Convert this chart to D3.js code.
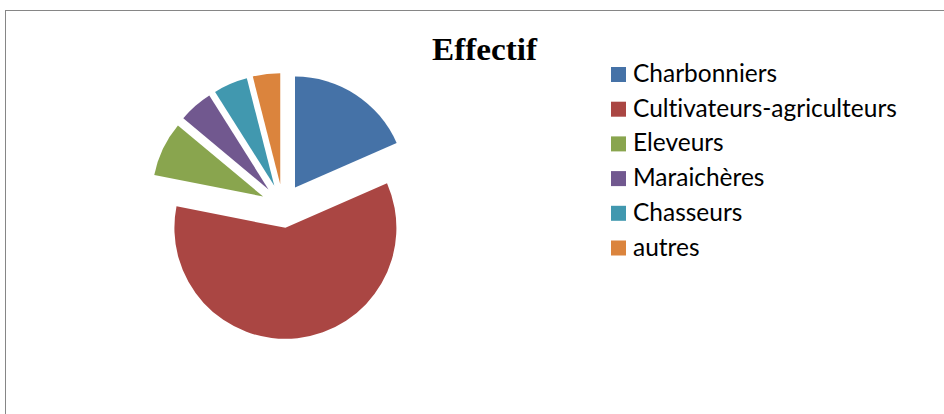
<!DOCTYPE html>
<html>
<head>
<meta charset="utf-8">
<script src="https://cdn.jsdelivr.net/npm/d3@7"></script>
<style>
  html, body { margin: 0; padding: 0; background: #fff; overflow: hidden; }
  svg { display: block; }
  text { font-variant-ligatures: none; }
</style>
</head>
<body>
<div id="chart"></div>
<script>
// data
const categories = ['Charbonniers', 'Cultivateurs-agriculteurs', 'Eleveurs', 'Maraichères', 'Chasseurs', 'autres'];
const effectif = [37, 120, 16, 10, 10, 8];
const colors = ['#4572A7', '#AA4643', '#89A54E', '#71588F', '#4198AF', '#DB843D'];
const title = 'Effectif';

const width = 944, height = 414;
const radius = 111; // pie radius
const explode = 22; // every slice is pulled out from the centre
const legendRectSize = 15;
const legendSpacing = 34.7; // row to row

const svg = d3.select('#chart')
  .append('svg')
  .attr('width', width)
  .attr('height', height);

// chart frame (right and bottom edges fall outside the window)
svg.append('rect')
  .attr('x', 5.5)
  .attr('y', 10.5)
  .attr('width', width + 20)
  .attr('height', height + 20)
  .attr('fill', '#fff')
  .attr('stroke', '#868686')
  .attr('stroke-width', 1);

const color = d3.scaleOrdinal().domain(categories).range(colors);

const pie = d3.pie()
  .value(function (d) { return d.value; })
  .sort(null);

const arc = d3.arc()
  .innerRadius(0)
  .outerRadius(radius);

const dataset = categories.map(function (c, i) { return { label: c, value: effectif[i] }; });

const g = svg.append('g')
  .attr('transform', 'translate(283,206)');

g.selectAll('path')
  .data(pie(dataset))
  .enter()
  .append('path')
  .attr('d', arc)
  .attr('fill', function (d) { return color(d.data.label); })
  .attr('transform', function (d) {
    const mid = (d.startAngle + d.endAngle) / 2;
    return 'translate(' + (explode * Math.sin(mid)) + ',' + (-explode * Math.cos(mid)) + ')';
  });

// title
const titleText = svg.append('text')
  .attr('x', 484.5)
  .attr('y', 60)
  .attr('text-anchor', 'middle')
  .style('font-family', '"Liberation Serif", "DejaVu Serif", serif')
  .style('font-weight', 'bold')
  .style('font-size', '31px')
  .attr('fill', '#000')
  .text(title);
// stretch to the width it has in the picture
titleText.attr('textLength', 105).attr('lengthAdjust', 'spacingAndGlyphs');

// legend
const legend = svg.append('g')
  .attr('class', 'legend-wrapper')
  .selectAll('.legend')
  .data(color.domain())
  .enter()
  .append('g')
  .attr('class', 'legend')
  .attr('transform', function (d, i) {
    return 'translate(611,' + (67 + i * legendSpacing) + ')';
  });

legend.append('rect')
  .attr('width', legendRectSize)
  .attr('height', legendRectSize)
  .style('fill', color);

const labels = legend.append('text')
  .attr('x', 22)
  .attr('y', 15)
  .style('font-family', 'Lato, "Open Sans", sans-serif')
  .style('font-size', '22px')
  .attr('fill', '#000')
  .text(function (d) { return d; });

// fit the font so the longest label is as wide as in the picture
let longest = 0;
labels.each(function () { longest = Math.max(longest, this.getComputedTextLength()); });
const fs = 22 * 264 / longest;
labels.style('font-size', fs + 'px');
</script>
</body>
</html>
